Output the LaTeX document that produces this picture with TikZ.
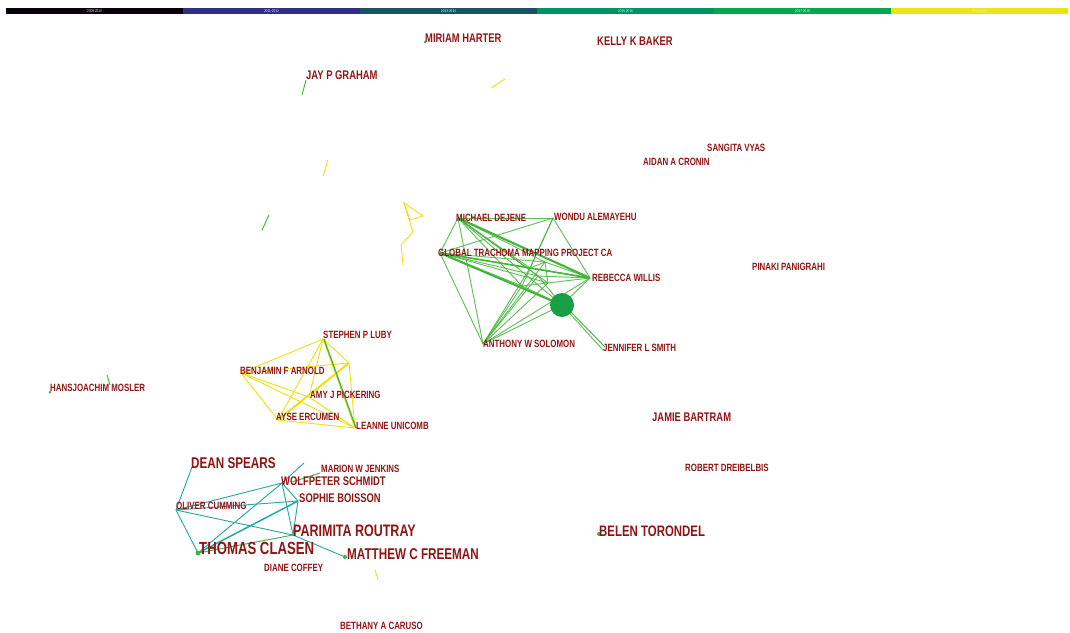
\documentclass[tikz,border=0pt]{standalone}
\usepackage{fontspec}
\setmainfont{Liberation Sans}[FakeStretch=0.75]
\usetikzlibrary{calc}
\usetikzlibrary{positioning}

\definecolor{lblred}{RGB}{145,20,20}
\definecolor{grn}{RGB}{70,180,60}
\definecolor{ylw}{RGB}{238,224,20}
\definecolor{tea}{RGB}{40,170,160}
\definecolor{blobg}{RGB}{25,160,70}
\definecolor{barA}{RGB}{8,0,12}
\definecolor{barB}{RGB}{48,46,128}
\definecolor{barC}{RGB}{26,82,100}
\definecolor{barD}{RGB}{0,146,96}
\definecolor{barE}{RGB}{0,170,76}
\definecolor{barF}{RGB}{236,228,20}

\tikzset{
  au/.style={anchor=west,inner sep=0pt,text=lblred,font=\bfseries\fontsize{9}{10}\selectfont},
  aum/.style={au,font=\bfseries\fontsize{10.7}{11}\selectfont},
  aul/.style={au,font=\bfseries\fontsize{13.3}{14}\selectfont},
  link/.style={line width=0.8pt},
  bold link/.style={line width=1.8pt}
}

\begin{document}
\begin{tikzpicture}[x=0.03cm,y=-0.03cm]
    \useasboundingbox (0,0) rectangle (1070,632);
    % time slices
    \foreach \c/\t [count=\i from 0] in {barA/2009-2010,barB/2011-2012,barC/2013-2014,barD/2015-2016,barE/2017-2018,barF/2019-2020}{
      \fill[\c] ({6+\i*177},8) rectangle ++(177,6);
      \node[font=\fontsize{3.5}{4}\selectfont,text=white!85!gray,inner sep=0pt] (sl\i) at ({94.5+\i*177},11) {\t};
    }

    % vertices
    \coordinate (vmd) at (458,218);
    \coordinate (vwa) at (553,218);
    \coordinate (vgt) at (440,253);
    \coordinate (vrw) at (590,278);
    \coordinate (vaws) at (483,344);
    \coordinate (vjls) at (603,350);
    \coordinate (vbl) at (562,305);
    \coordinate (p1) at (530,268);
    \coordinate (p2) at (545,262);
    \coordinate (p3) at (522,286);
    \coordinate (p4) at (548,283);
    \coordinate (p5) at (538,276);
    \coordinate (vspl) at (323,339);
    \coordinate (vbfa) at (241,373);
    \coordinate (vq) at (349,363);
    \coordinate (vajp) at (309,397);
    \coordinate (vae) at (278,420);
    \coordinate (vlu) at (355,428);
    \coordinate (vds) at (192,467);
    \coordinate (voc) at (176,510);
    \coordinate (vws) at (282,483);
    \coordinate (vsb) at (298,501);
    \coordinate (vpr) at (293,535);
    \coordinate (vtc) at (198,553);
    \coordinate (vmcf) at (345,557);
    \coordinate (vmwj) at (320,473);
    \coordinate (vtl) at (304,463);

    % trachoma cluster
    \foreach \a/\b in {vmd/vgt,vmd/vwa,vmd/vrw,vmd/vaws,vmd/vbl,vmd/p1,vmd/p4,
      vgt/vwa,vgt/vrw,vgt/vbl,vgt/vaws,vgt/p1,vgt/p4,vgt/p3,vwa/vrw,vwa/p3,
      vrw/vaws,vrw/p1,vrw/p2,vaws/vbl,vaws/p4,vaws/p2,vaws/p1,vbl/vjls,
      vbl/vrw,p1/p2,p2/p4,vmd/p2,vmd/p5,vgt/p5,vaws/p5,vrw/p5,vgt/p2,
      vrw/p3,vaws/p3,vmd/p3,vwa/p1,p3/vbl,p5/vbl}
      \draw[grn,link,opacity=0.85] (\a) -- (\b);
    \draw[grn,bold link] (vmd) -- (vrw);
    \draw[grn,bold link] (vgt) -- (vbl);
    \draw[grn,line width=1.3pt] (vgt) -- (vrw);
    \draw[grn,link] ($(vbl)+(4,2)$) -- ($(vjls)+(2,-3)$);
    \fill[blobg] (vbl) circle[radius=12];

    % WASH trials cluster
    \foreach \a/\b in {vspl/vbfa,vspl/vq,vspl/vae,vspl/vlu,vspl/vajp,vbfa/vq,
      vbfa/vae,vbfa/vlu,vbfa/vajp,vae/vlu,vq/vlu,vajp/vlu}
      \draw[ylw,link] (\a) -- (\b);
    \draw[ylw,bold link] (vae) -- (vq);
    \draw[grn,line width=1.1pt] ($(vspl)+(1,0)$) -- ($(vlu)+(1,0)$);

    % sanitation cluster
    \foreach \a/\b in {vds/voc,voc/vws,voc/vsb,voc/vpr,voc/vtc,vws/vtc,
      vws/vpr,vws/vtl,vsb/vpr,vpr/vmcf,vws/vsb}
      \draw[tea,link] (\a) -- (\b);
    \draw[tea,line width=1.3pt] (vsb) -- (vtc);
    \draw[grn!80!tea,link] (vtc) -- (vpr);
    \draw[grn,link] ($(vws)+(10,-1)$) -- (vmwj);
    \fill[grn] (vtc) circle[radius=2.5];
    \fill[grn] (vmcf) circle[radius=2];

    % loose pieces
    \draw[grn,link] (306,80) -- (302,95);
    \draw[ylw,link] (491,88) -- (505,79);
    \draw[ylw,link] (323,176) -- (328,160);
    \draw[grn,link] (262,230) -- (269,215);
    \draw[ylw,link] (404,203) -- (423,216) -- (410,220) -- cycle;
    \draw[ylw,link] (404,203) -- (413,232) -- (401,245) -- (403,265);
    \draw[grn,link] (107,375) -- (110,385);
    \draw[ylw,link] (375,570) -- (378,580);
    \fill[grn] (425,42) circle[radius=1.5];
    \fill[grn] (50,392) circle[radius=1.5];
    \fill[grn] (599,534) circle[radius=2];

    % authors
    \node[aum] (mh) at (425,38) {MIRIAM HARTER};
    \node[aum] (kb) at (597,41) {KELLY K BAKER};
    \node[aum] (jg) at (306,75) {JAY P GRAHAM};
    \node[au] (sv) at (707,148) {SANGITA VYAS};
    \node[au] (ac) at (643,162) {AIDAN A CRONIN};
    \node[au] (pp) at (752,267) {PINAKI PANIGRAHI};
    \node[au] (md) at (456,218) {MICHAEL DEJENE};
    \node[au] (wa) at (554,217) {WONDU ALEMAYEHU};
    \node[au] (gt) at (438,253) {GLOBAL TRACHOMA MAPPING PROJECT CA};
    \node[au] (rw) at (592,278) {REBECCA WILLIS};
    \node[au] (aws) at (483,344) {ANTHONY W SOLOMON};
    \node[au] (jls) at (603,348) {JENNIFER L SMITH};
    \node[au] (spl) at (323,335) {STEPHEN P LUBY};
    \node[au] (bfa) at (240,371) {BENJAMIN F ARNOLD};
    \node[au] (ajp) at (310,395) {AMY J PICKERING};
    \node[au] (ae) at (276,417) {AYSE ERCUMEN};
    \node[au] (lu) at (356,426) {LEANNE UNICOMB};
    \node[au] (hm) at (50,388) {HANSJOACHIM MOSLER};
    \node[aum] (jb) at (652,417) {JAMIE BARTRAM};
    \node[au] (rd) at (685,468) {ROBERT DREIBELBIS};
    \node[aul] (ds) at (191,463) {DEAN SPEARS};
    \node[au] (mwj) at (321,469) {MARION W JENKINS};
    \node[aum] (ws) at (281,481) {WOLFPETER SCHMIDT};
    \node[aum] (sb) at (299,498) {SOPHIE BOISSON};
    \node[au] (oc) at (176,506) {OLIVER CUMMING};
    \node[aul,font=\bfseries\fontsize{14.2}{15}\selectfont] (pr) at (293,531) {PARIMITA ROUTRAY};
    \node[aul,font=\bfseries\fontsize{15}{16}\selectfont] (tc) at (199,548) {THOMAS CLASEN};
    \node[aul] (mcf) at (347,554) {MATTHEW C FREEMAN};
    \node[aul,font=\bfseries\fontsize{13}{14}\selectfont] (bt) at (599,531) {BELEN TORONDEL};
    \node[au] (dc) at (264,568) {DIANE COFFEY};
    \node[au] (bc) at (340,626) {BETHANY A CARUSO};
\end{tikzpicture}
\end{document}
